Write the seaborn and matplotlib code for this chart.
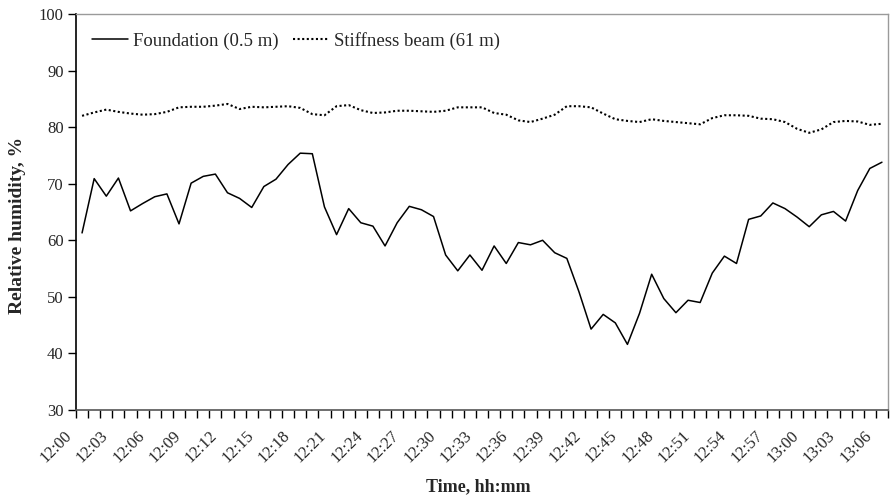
import numpy as np
import pandas as pd
import matplotlib
matplotlib.use("Agg")
import matplotlib.pyplot as plt
import matplotlib.transforms as mtransforms
import seaborn as sns

# Sampling times, one reading per minute
times = list(pd.date_range("2000-01-01 12:00", periods=67, freq="min").strftime("%H:%M"))

foundation = [
    61.3, 70.9, 67.8, 71.0, 65.2, 66.5, 67.7, 68.2, 62.9, 70.1,
    71.3, 71.7, 68.4, 67.4, 65.8, 69.5, 70.8, 73.4, 75.4, 75.3,
    65.9, 61.0, 65.6, 63.1, 62.5, 59.0, 63.1, 66.0, 65.4, 64.2,
    57.4, 54.6, 57.4, 54.7, 59.0, 55.9, 59.6, 59.2, 60.0, 57.8,
    56.8, 50.9, 44.3, 46.9, 45.4, 41.6, 47.1, 54.0, 49.7, 47.2,
    49.4, 49.0, 54.2, 57.2, 55.9, 63.7, 64.3, 66.6, 65.6, 64.1,
    62.4, 64.5, 65.1, 63.4, 68.8, 72.7, 73.8,
]

stiffness_beam = [
    82.0, 82.6, 83.1, 82.7, 82.4, 82.2, 82.3, 82.7, 83.5, 83.6,
    83.6, 83.8, 84.1, 83.2, 83.6, 83.5, 83.6, 83.7, 83.4, 82.3,
    82.1, 83.7, 83.9, 83.0, 82.5, 82.6, 82.9, 82.9, 82.8, 82.7,
    82.9, 83.5, 83.5, 83.5, 82.5, 82.2, 81.2, 80.9, 81.5, 82.2,
    83.7, 83.7, 83.5, 82.4, 81.4, 81.1, 80.9, 81.4, 81.1, 80.9,
    80.7, 80.5, 81.6, 82.1, 82.1, 82.0, 81.5, 81.4, 80.9, 79.7,
    79.0, 79.6, 80.9, 81.1, 81.0, 80.4, 80.6,
]

series_names = ["Foundation (0.5 m)", "Stiffness beam (61 m)"]
y_ticks = [30, 40, 50, 60, 70, 80, 90, 100]

sns.set_style("white")
plt.rcParams["font.family"] = ["Liberation Serif", "DejaVu Serif"]

pos = np.arange(len(times))
df = pd.DataFrame({"pos": pos, "time": times,
                   "foundation": foundation, "beam": stiffness_beam})

W, H = 890, 501
fig = plt.figure(figsize=(W / 100, H / 100), dpi=100)
left, right, top, bottom = 76, 888, 14, 410
ax = fig.add_axes([left / W, 1 - bottom / H, (right - left) / W, (bottom - top) / H])

sns.lineplot(data=df, x="pos", y="foundation", ax=ax, color="black",
             linewidth=1.1, label=series_names[0])
sns.lineplot(data=df, x="pos", y="beam", ax=ax, color="black",
             linewidth=1.5, linestyle=(0, (1, 1.2)), label=series_names[1])

ax.set_xlim(-0.5, len(times) - 0.5)
ax.set_ylim(30, 100)

# y axis
ax.set_yticks(y_ticks)
ax.set_yticklabels([str(v) for v in y_ticks], fontsize=12)
ax.tick_params(axis="y", which="major", direction="out", length=6, width=1,
               color="black", left=True, pad=3)

# x axis: tick marks between categories, labels every third minute
ax.set_xticks(np.arange(-0.5, len(times), 1.0))
ax.set_xticklabels([])
ax.tick_params(axis="x", which="major", direction="out", length=6, width=1,
               color="black", bottom=True)
lab_pos = pos[::3]
ax.set_xticks(lab_pos, minor=True)
ax.set_xticklabels([times[i] for i in lab_pos], minor=True, fontsize=12,
                   rotation=45, ha="right", va="top")
ax.tick_params(axis="x", which="minor", length=0, pad=13)
offset = mtransforms.ScaledTranslation(-7 / 100, 0, fig.dpi_scale_trans)
for lbl in ax.get_xticklabels(minor=True):
    lbl.set_transform(lbl.get_transform() + offset)

for side in ["top", "right"]:
    ax.spines[side].set_color("#9a9a9a")
    ax.spines[side].set_linewidth(1.0)
ax.spines["left"].set_color("black")
ax.spines["left"].set_linewidth(1.2)
ax.spines["bottom"].set_color("#555555")
ax.spines["bottom"].set_linewidth(1.2)

ax.set_xlabel("")
ax.set_ylabel("")
fig.text(478 / W, 1 - 487 / H, "Time, hh:mm", fontsize=13, fontweight="bold",
         ha="center", va="center")
fig.text(18 / W, 1 - 225 / H, "Relative humidity, %", fontsize=14,
         fontweight="bold", rotation=90, ha="center", va="center")

ax.legend(loc="center left",
          bbox_to_anchor=((92 - left) / (right - left), (bottom - 41) / (bottom - top)),
          ncol=2, frameon=False, fontsize=13.5, handlelength=1.9,
          handletextpad=0.3, columnspacing=0.75, borderaxespad=0, borderpad=0)

fig.savefig("out.png", dpi=100)
